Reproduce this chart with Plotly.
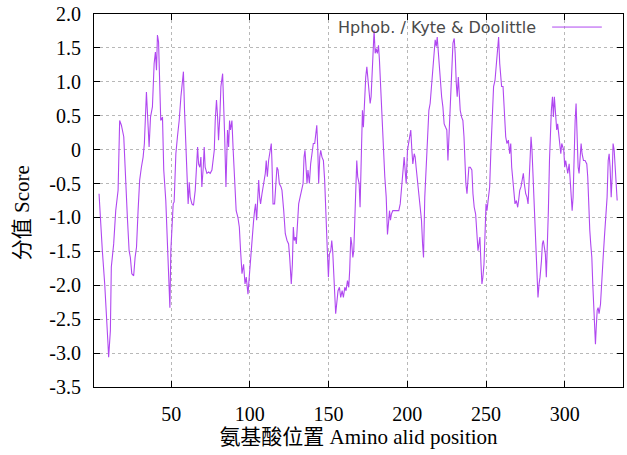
import plotly.graph_objects as go

# Residue positions (x) and Kyte & Doolittle hydrophobicity scores (y)
pos = [4.2, 5, 6.3, 7.8, 8.9, 9.9, 10.3, 11.4, 12, 13.5, 14.8, 16.3, 17.3, 18.4, 19.9, 21, 22.2, 23.3, 24.1, 25,
       26.2, 27.1, 28, 29, 30, 31.1, 32.2, 33, 33.7, 34.3, 35.4, 36, 36.9, 38.1, 39.2, 40, 40.7, 41.3, 42, 42.8,
       43.4, 44.5, 45.3, 46.6, 47.7, 48.3, 49.2, 49.8, 50.4, 51.3, 51.9, 53, 54, 55.1, 56.2, 57.2, 57.8, 58.5, 59.3, 60.2,
       60.8, 61.5, 62.1, 63.2, 64.2, 65.3, 66.1, 66.8, 67.4, 68.2, 68.9, 69.5, 70.4, 71, 71.6, 72.7, 73.8, 74.8, 75.9, 76.7,
       77.4, 78, 78.8, 79.5, 80.1, 81, 81.6, 82.7, 83.3, 84, 84.8,
       85, 85.8, 86.5, 87.1, 87.7, 88.6, 89.4, 90.3, 91.3, 92.4, 93.3, 94.1, 95, 96, 96.9, 97.7, 98.8, 99.6, 100.5, 101.3,
       102.4, 103, 103.6, 104.3, 104.9, 105.6, 106.2, 106.8, 107.7, 108.7, 109.8, 110.4, 111.1, 111.9, 113, 113.6, 114, 114.7, 115.7, 116.6,
       117.2, 117.9, 118.7, 119.8, 120.4, 121.5, 122.5, 123.6, 124.6, 125.3, 125.9, 126.3,
       127, 127.6, 128.2, 128.9, 129.5, 130.2, 131, 131.9, 132.7, 133.8, 134.4, 135, 135.7, 136.3, 136.9, 137.8, 138.6, 139.5, 140.3, 141.2,
       141.8, 142.5, 143.1, 143.7, 144.4, 145, 145.8, 146.7, 147.5, 148.4, 149.2, 149.9, 150.5, 151.4, 152, 152.6, 153.3, 153.9, 154.5, 155.2,
       156, 156.9, 157.7, 158.6, 159.4, 160.3, 161.1, 162, 162.8, 163.4, 164.1, 164.7, 165.4, 166, 166.6, 167.3, 167.9, 168.5, 169.4, 170,
       170.9, 171.5, 172.1, 173, 173.6, 174.3, 175.1, 175.7, 176.4, 177, 177.6, 178.3, 178.9, 179.6, 180.2, 181, 181.7, 182.3, 183.2, 184,
       184.9, 185.7, 186.6, 187.4, 188, 188.7, 189.3, 189.9, 190.8, 192.1, 193.3, 194.6, 195.5, 196.3, 197.2, 198, 198.6, 199.3, 200.1, 200.8,
       201.4, 202.2, 202.9, 203.5, 204.4, 205, 205.6, 206.5, 207.3, 208.2, 209, 209.7, 210.3,
       211.1, 212, 212.8, 213.7, 214.5, 215.4, 216.2, 217.1, 217.7, 218.4, 219, 219.6, 220.3, 220.9, 221.8, 222.6, 223.4, 224.3, 225.1, 225.8,
       226.4, 227.3, 228.1, 229, 229.8, 230.4, 231.1, 231.7, 232.4, 233, 233.6, 234.5, 235.3, 236, 236.6, 237.2, 237.9, 238.5, 239.1, 240,
       241, 241.7, 242.5, 243.4, 244.2, 244.9, 245.5, 246.1, 246.8, 247.4, 248, 248.7, 249.3, 250, 250.6, 251.4, 252.3,
       253.1, 254, 254.8, 255.7, 256.5, 257.4, 258, 258.7, 259.3, 259.9, 260.8, 261.6, 262.5, 263.3, 264.2, 265, 265.7, 266.3, 267.1, 267.8,
       268.4, 269.3, 270.1, 270.7, 271.4, 272.2, 273.1, 273.7, 274.3, 275.2, 276, 276.7, 277.3, 277.9, 278.6, 279.2, 279.9, 280.5, 281.1, 281.8,
       282.4, 283, 283.7, 284.3, 285.2, 285.8, 286.4, 287.1, 287.7, 288.3, 289, 289.6, 290.3, 290.9, 291.5, 292.2, 292.8, 293.4, 294.1,
       294.9, 295.5, 296.2, 296.8, 297.5, 298.1, 298.7, 299.4, 300, 300.6, 301.3, 301.9, 302.8, 303.4, 304, 304.7, 305.3, 305.9, 306.6, 307.2,
       307.8, 308.5, 309.1, 309.8, 310.4, 311, 311.9, 312.9, 314, 314.6, 315.3, 315.9, 316.5, 317.2, 317.8, 318.4, 319.1, 319.5, 320, 320.6,
       321.2, 321.8, 322.7, 323.5, 324.4, 325.2, 326.1, 326.9, 327.6, 328.2, 328.8, 329.5, 330.1, 330.7, 331.4, 332, 332.7, 333.3]

score = [-0.65, -1.04, -1.49, -1.98, -2.37, -2.87, -3.06, -2.67, -1.73, -1.39, -0.9, -0.6, 0.43, 0.36, 0.19, -0.45, -1.0, -1.49, -1.59, -1.83,
         -1.86, -1.59, -1.44, -0.9, -0.45, -0.26, -0.11, 0.09, 0.63, 0.85, 0.33, 0.04, 0.48, 0.63, 1.27, 1.44, 1.17, 1.69, 1.59, 1.07,
         0.43, 0.48, -0.3, -0.75, -1.39, -1.98, -2.33, -1.49, -1.14, -0.8, -0.77, -0.06, 0.19, 0.43, 0.78, 1.02, 1.15, 0.58, -0.01, -0.5,
         -0.8, -0.48, -0.7, -0.8, -0.82, -0.6, -0.16, 0.04, -0.21, -0.26, -0.11, -0.55, -0.26, 0.04, -0.26, -0.35, -0.33, -0.35, -0.3, -0.11,
         -0.01, 0.43, 0.73, 0.48, 0.14, 0.53, 0.93, 1.12, 0.78, 0.19, -0.55,
         -0.3, 0.29, 0.04, 0.43, 0.29, 0.43, -0.01, -0.5, -0.9, -1.0, -1.14, -1.49, -1.83, -1.69, -1.98, -1.88, -2.13, -1.88, -1.59, -1.29,
         -1.04, -0.9, -0.8, -1.04, -0.7, -0.45, -0.7, -0.8, -0.65, -0.5, -0.35, -0.16, -0.4, -0.16, -0.01, 0.09, -0.16, -0.8, -0.8, -0.4,
         -0.26, -0.3, -0.5, -0.55, -0.6, -0.9, -1.24, -1.34, -1.39, -1.59, -1.98, -1.98,
         -1.69, -1.14, -1.34, -1.29, -1.39, -1.14, -0.8, -0.7, -0.6, -0.5, -0.11, -0.01, -0.26, -0.5, -0.3, -0.5, -0.21, -0.06, 0.09, 0.09,
         0.19, 0.36, 0.04, -0.5, -0.11, -0.01, -0.11, -0.16, -0.45, -1.19, -1.49, -1.88, -1.54, -1.49, -1.34, -1.49, -2.03, -2.13, -2.42, -2.28,
         -2.08, -2.03, -2.18, -2.08, -2.18, -2.03, -2.08, -1.93, -2.03, -1.78, -1.29, -1.39, -1.59, -1.49, -1.0, -0.65, -0.16, -0.4, -0.5, -0.85,
         0.19, 0.58, 0.33, 0.98, 1.07, 1.22, 1.02, 0.78, 0.68, 0.78, 1.07, 1.47, 1.76, 1.42, 1.49, 1.42, 1.54, 1.32, 0.83, 0.48,
         -0.01, -0.4, -0.7, -1.25, -1.1, -0.9, -1.04, -0.95, -0.9, -0.9, -0.9, -0.9, -0.8, -0.6, -0.4, -0.11, -0.3, -0.5, -0.01, 0.09,
         0.19, 0.29, -0.01, -0.21, -0.06, -0.11, -0.26, -0.5, -0.7, -0.9, -1.04, -1.39, -1.59,
         -0.7, -0.16, 0.09, 0.58, 0.68, 0.93, 1.17, 1.42, 1.62, 1.52, 1.66, 1.47, 1.22, 1.02, 0.78, 0.63, 0.38, 0.33, 0.29, -0.16,
         0.19, 0.68, 1.32, 1.57, 1.64, 1.42, 0.98, 0.78, 1.07, 0.73, 0.58, 0.48, 0.43, 0.19, -0.26, -0.5, -0.65, -0.45, -0.26, -0.26,
         -0.3, -0.65, -0.85, -0.95, -1.19, -1.49, -1.39, -1.29, -1.69, -1.98, -1.88, -1.69, -1.29, -0.8, -0.9, -0.7, -0.55,
         -0.01, 0.48, 0.93, 1.02, 1.22, 1.52, 1.66, 1.27, 1.07, 0.93, 0.93, 0.58, 0.19, 0.09, 0.14, -0.06, 0.09, -0.26, -0.5, -0.75,
         -0.8, -0.75, -0.85, -0.75, -0.6, -0.55, -0.45, -0.35, -0.5, -0.65, -0.7, -0.8, -0.5, -0.06, 0.19, -0.01, -0.4, -0.85, -1.09, -1.49,
         -1.78, -2.18, -1.98, -1.88, -1.64, -1.39, -1.34, -1.49, -1.54, -1.88, -1.49, -0.9, -0.16, 0.33, 0.58, 0.78, 0.48, 0.78, 0.58,
         0.29, 0.38, 0.24, 0.09, -0.06, 0.09, 0.04, -0.01, -0.26, -0.16, -0.26, -0.35, -0.21, -0.4, -0.55, -0.9, -0.7, 0.09, 0.43, 0.68,
         0.09, -0.26, -0.35, -0.01, 0.09, -0.06, -0.16, -0.16, -0.21, -0.4, -0.9, -1.19, -1.39, -1.59, -1.98, -2.37, -2.77, -2.87, -2.62, -2.37,
         -2.33, -2.42, -2.28, -1.88, -1.59, -1.29, -1.0, -0.7, -0.16, -0.06, -0.26, -0.7, -0.4, 0.09, -0.01, -0.21, -0.5, -0.75]

x_ticks = [50, 100, 150, 200, 250, 300]
y_ticks = [2.0, 1.5, 1.0, 0.5, 0, -0.5, -1.0, -1.5, -2.0, -2.5, -3.0, -3.5]
y_ticktext = ["2.0", "1.5", "1.0", "0.5", "0", "-0.5", "-1.0", "-1.5", "-2.0", "-2.5", "-3.0", "-3.5"]

series_name = "Hphob. / Kyte & Doolittle"
x_title = "氨基酸位置 Amino alid position"
y_title = "分值 Score"

LINE_COLOR = "#b048f0"
SERIF = "Liberation Serif, Noto Sans CJK SC, serif"

fig = go.Figure()
fig.add_trace(go.Scatter(x=pos, y=score, mode="lines", name=series_name,
                         line=dict(color=LINE_COLOR, width=1.1), showlegend=False))

axis_common = dict(
    showgrid=True, gridcolor="#b8b8b8", griddash="dot", gridwidth=1,
    ticks="inside", ticklen=6, tickcolor="black", tickwidth=1,
    showline=True, linecolor="black", linewidth=1, mirror="ticks",
    zeroline=False, tickfont=dict(family=SERIF, size=20, color="black"),
)

fig.update_layout(
    width=627, height=455,
    margin=dict(l=94, r=4, t=14, b=68),
    plot_bgcolor="white", paper_bgcolor="white",
    xaxis=dict(range=[1, 337], tickvals=x_ticks, ticklabelstandoff=9,
               title=dict(text=x_title, font=dict(family=SERIF, size=21, color="black"), standoff=5),
               **axis_common),
    yaxis=dict(range=[-3.5, 2.0], tickvals=y_ticks, ticktext=y_ticktext, ticklabelstandoff=8,
               **axis_common),
    annotations=[
        dict(text=y_title, xref="paper", yref="paper", x=-0.136, y=0.466, textangle=-90,
             showarrow=False, xanchor="center", yanchor="middle",
             font=dict(family=SERIF, size=21, color="black")),
        dict(text=series_name, xref="paper", yref="paper", x=0.839, y=0.965,
             showarrow=False, xanchor="right", yanchor="middle",
             font=dict(family="DejaVu Sans", size=16, color="#4a4a4a")),
    ],
    shapes=[
        dict(type="line", xref="paper", yref="paper", x0=0.866, x1=0.960, y0=0.965, y1=0.965,
             line=dict(color=LINE_COLOR, width=1)),
    ],
)

fig.write_html("out.html")
